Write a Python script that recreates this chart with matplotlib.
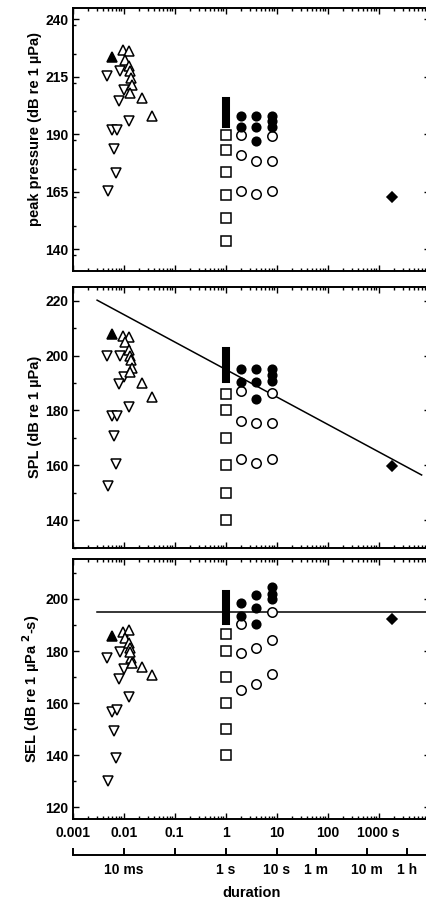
import numpy as np
import matplotlib
matplotlib.use("Agg")
import matplotlib.pyplot as plt
from matplotlib.ticker import FixedLocator, NullFormatter, LogLocator, MultipleLocator

# ---- data ----
# open down-triangles
t_down = [0.0047, 0.0085, 0.0102, 0.0081, 0.0124, 0.0060, 0.0075, 0.0065, 0.0072, 0.0050]
peak_down = [215.2, 217.4, 209.4, 204.3, 195.9, 192.0, 192.0, 183.7, 173.3, 165.3]
spl_down = [200.0, 199.7, 192.1, 189.7, 181.2, 178.1, 178.1, 170.8, 160.5, 152.5]
sel_down = [177.5, 179.8, 173.0, 169.3, 162.3, 156.5, 157.4, 149.3, 139.1, 130.1]

# open up-triangles
t_up = [0.0095, 0.0125, 0.0107, 0.0124, 0.0130, 0.0137, 0.0142, 0.0133, 0.0228, 0.0365]
peak_up = [226.9, 226.2, 222.5, 219.6, 217.4, 214.5, 211.6, 208.0, 205.8, 198.1]
spl_up = [207.0, 206.7, 204.8, 202.1, 200.0, 198.4, 195.4, 194.2, 189.9, 185.0]
sel_up = [187.2, 188.1, 184.9, 183.0, 181.0, 177.2, 175.5, 179.5, 173.8, 170.6]

# filled up-triangle
t_tri_f = [0.006]
peak_tri_f = [223.7]
spl_tri_f = [207.8]
sel_tri_f = [185.9]

# filled bar at 1 s (low, high)
t_bar = [1, 1]
peak_bar = [194.5, 204.5]
spl_bar = [191.5, 201.8]
sel_bar = [191.5, 201.8]

# open squares at 1 s
t_sq = [1, 1, 1, 1, 1, 1]
peak_sq = [143.5, 153.5, 163.5, 173.5, 183.0, 189.5]
spl_sq = [140, 150, 160, 170, 180, 186]
sel_sq = [140, 150, 160, 170, 180, 186.5]

# filled circles
t_fc = [2, 2, 4, 4, 4, 8, 8, 8]
peak_fc = [198.1, 193.1, 198.1, 193.1, 187.2, 198.1, 195.6, 193.1]
spl_fc = [195.2, 190.5, 195.2, 190.3, 184.1, 195.2, 192.8, 190.8]
sel_fc = [198.3, 193.6, 201.5, 196.4, 190.3, 204.5, 201.8, 199.8]

# open circles
t_oc = [2, 2, 2, 4, 4, 8, 8, 8]
peak_oc = [189.8, 181.0, 165.3, 178.4, 164.1, 189.1, 178.4, 165.3]
spl_oc = [187.1, 176.2, 162.2, 175.3, 160.9, 186.3, 175.3, 162.2]
sel_oc = [190.3, 179.1, 165.1, 181.3, 167.2, 195.1, 184.3, 171.2]

# filled diamond
t_dia = [1800]
peak_dia = [162.6]
spl_dia = [159.8]
sel_dia = [192.3]

# criterion lines
spl_line_t = [0.003, 7000]
spl_line = [220.2, 156.5]
sel_line_t = [0.003, 10000]
sel_line = [195, 195]

# duration axis
dur_ticks = [0.001, 0.01, 0.1, 1, 10, 60, 600, 3600]
dur_labels = ["", "10 ms", "", "1 s", "10 s", "1 m", "10 m", "1 h"]
x_ticks = [0.001, 0.01, 0.1, 1, 10, 100, 1000]
x_labels = ["0.001", "0.01", "0.1", "1", "10", "100", "1000 s"]

# ---- plot ----
plt.rcParams["font.family"] = ["Liberation Sans", "DejaVu Sans"]
plt.rcParams["font.weight"] = "bold"
plt.rcParams["axes.labelweight"] = "bold"
plt.rcParams["mathtext.default"] = "bf"

W, H = 427, 901
fig = plt.figure(figsize=(W / 100, H / 100), dpi=100)

def frac(x0, y_top, x1, y_bot):
    return [x0 / W, 1 - y_bot / H, (x1 - x0) / W, (y_bot - y_top) / H]

left, right = 72.8, 429.5
ax1 = fig.add_axes(frac(left, 8, right, 271))
ax2 = fig.add_axes(frac(left, 287, right, 547.7))
ax3 = fig.add_axes(frac(left, 559.3, right, 819.3))

ms_tri = 7.3
ms_sq = 6.8
ms_circ = 6.8
ms_fc = 6.2
ms_dia = 5.0
mlw = 1.1

def draw(ax, down, up, tri_f, bar, sq, fc, oc, dia):
    ax.plot(t_down, down, ls="none", marker="v", ms=ms_tri, mfc="white", mec="black", mew=mlw, zorder=3)
    ax.plot(t_up, up, ls="none", marker="^", ms=ms_tri, mfc="white", mec="black", mew=mlw, zorder=3)
    ax.plot(t_tri_f, tri_f, ls="none", marker="^", ms=ms_tri, mfc="black", mec="black", mew=mlw, zorder=3)
    ax.plot(t_bar, bar, color="black", lw=5.8, solid_capstyle="projecting", zorder=3)
    ax.plot(t_sq, sq, ls="none", marker="s", ms=ms_sq, mfc="white", mec="black", mew=mlw, zorder=3)
    ax.plot(t_oc, oc, ls="none", marker="o", ms=ms_circ, mfc="white", mec="black", mew=mlw, zorder=3)
    ax.plot(t_fc, fc, ls="none", marker="o", ms=ms_fc, mfc="black", mec="black", mew=mlw, zorder=3)
    ax.plot(t_dia, dia, ls="none", marker="D", ms=ms_dia, mfc="black", mec="black", mew=mlw, zorder=3)

draw(ax1, peak_down, peak_up, peak_tri_f, peak_bar, peak_sq, peak_fc, peak_oc, peak_dia)
draw(ax2, spl_down, spl_up, spl_tri_f, spl_bar, spl_sq, spl_fc, spl_oc, spl_dia)
draw(ax3, sel_down, sel_up, sel_tri_f, sel_bar, sel_sq, sel_fc, sel_oc, sel_dia)

ax2.plot(spl_line_t, spl_line, color="black", lw=1.1, zorder=2)
ax3.plot(sel_line_t, sel_line, color="black", lw=1.1, zorder=2)

for ax in (ax1, ax2, ax3):
    ax.set_xscale("log")
    ax.set_xlim(0.001, 10000)
    ax.xaxis.set_major_locator(FixedLocator(x_ticks + [10000]))
    ax.xaxis.set_minor_locator(LogLocator(base=10, subs=np.arange(2, 10), numticks=20))
    ax.xaxis.set_minor_formatter(NullFormatter())
    ax.tick_params(which="both", direction="in", top=True, right=True, width=1.0)
    ax.tick_params(axis="x", which="major", length=4.5)
    ax.tick_params(axis="x", which="minor", length=2.2)
    ax.tick_params(axis="y", which="major", length=4.3, labelsize=10, pad=3)
    ax.tick_params(axis="y", which="minor", length=2.2)
    for s in ax.spines.values():
        s.set_linewidth(1.4)

ax1.set_xticklabels([])
ax2.set_xticklabels([])
ax3.set_xticklabels(x_labels + [""], fontsize=10)
ax3.tick_params(axis="x", which="major", pad=5)

ax1.set_ylim(130.5, 245)
ax1.yaxis.set_major_locator(FixedLocator([140, 165, 190, 215, 240]))
ax1.yaxis.set_minor_locator(MultipleLocator(12.5))
ax2.set_ylim(130, 225)
ax2.yaxis.set_major_locator(MultipleLocator(20))
ax2.yaxis.set_minor_locator(MultipleLocator(10))
ax3.set_ylim(115.4, 215.2)
ax3.yaxis.set_major_locator(MultipleLocator(20))
ax3.yaxis.set_minor_locator(MultipleLocator(10))

ax1.set_ylabel("peak pressure (dB re 1 µPa)", fontsize=10.5)
ax2.set_ylabel("SPL (dB re 1 µPa)", fontsize=10.5)
ax3.set_ylabel("SEL (dB re 1 µPa $^{2}$-s)", fontsize=10.5)
ax1.yaxis.set_label_coords(-31 / (right - left), 0.54)
ax2.yaxis.set_label_coords(-31 / (right - left), 0.5)
ax3.yaxis.set_label_coords(-31 / (right - left), 0.5)

# duration axis below
axd = fig.add_axes(frac(left, 845, right, 855))
axd.set_xscale("log")
axd.set_xlim(0.001, 10000)
axd.set_ylim(0, 1)
axd.patch.set_visible(False)
for k in ("left", "right", "top"):
    axd.spines[k].set_visible(False)
axd.spines["bottom"].set_linewidth(1.4)
axd.set_yticks([])
axd.xaxis.set_major_locator(FixedLocator(dur_ticks))
axd.xaxis.set_minor_locator(FixedLocator([]))
axd.set_xticklabels(dur_labels, fontsize=10)
axd.tick_params(axis="x", which="major", direction="in", length=5, width=1.4, pad=6)
axd.set_xlabel("duration", fontsize=10.5, labelpad=6)

fig.savefig("out.png", dpi=100)
